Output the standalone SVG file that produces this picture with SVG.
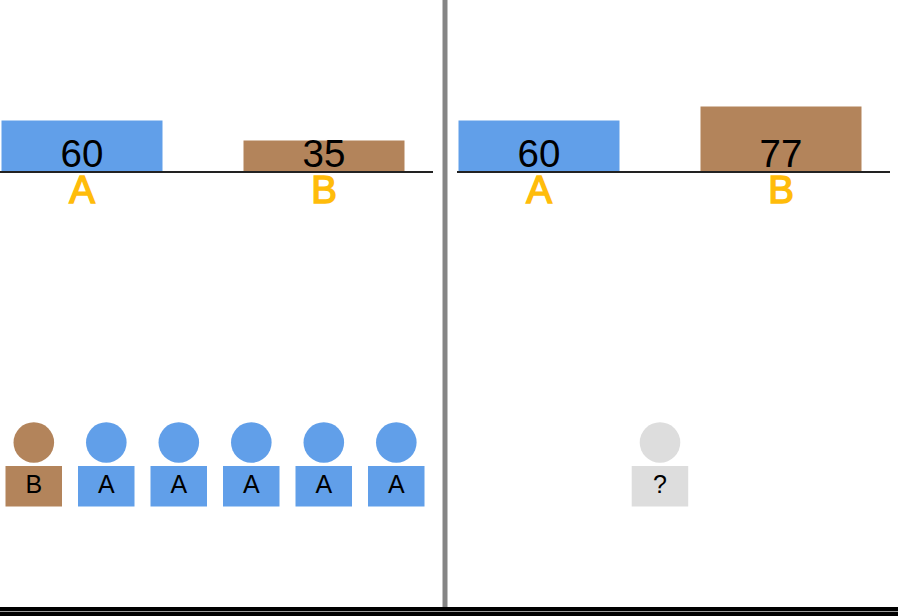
<svg xmlns="http://www.w3.org/2000/svg" width="898" height="616" viewBox="0 0 898 616">
<style>
text{font-family:"Liberation Sans",Arial,sans-serif;text-anchor:middle}
.v{font-size:38.5px;fill:#000}
.l{font-size:38.500px;fill:#ffbc0a;stroke:#ffbc0a;stroke-width:1.500}
.p{font-size:25px;fill:#000}
.a{fill:#619fe9}
.b{fill:#b3845b}
.q{fill:#dddddd}
.ax{stroke:#222;stroke-width:1.8;fill:none}
</style>
<rect width="898" height="616" fill="#fff"/>
<g id="frame">
<rect x="442.500" y="0" width="5" height="607" fill="#858585"/>
<rect x="0" y="607" width="898" height="9" fill="#000"/>
<rect x="0" y="611" width="898" height="1" fill="#999"/>
</g>
<g id="chart-left">
<rect class="a" x="1.500" y="120.500" width="161" height="51.500"/>
<rect class="b" x="243.500" y="140.500" width="161" height="31.500"/>
<line class="ax" x1="0" y1="172" x2="433" y2="172"/>
<text class="v" x="82" y="166.500">60</text>
<text class="v" x="324" y="166.500">35</text>
<text class="l" x="82" y="202.500">A</text>
<text class="l" x="324" y="202.500">B</text>
</g>
<g id="chart-right">
<rect class="a" x="458.500" y="120.500" width="161" height="51.500"/>
<rect class="b" x="700.500" y="106.500" width="161" height="65.500"/>
<line class="ax" x1="457" y1="172" x2="890" y2="172"/>
<text class="v" x="539" y="166.500">60</text>
<text class="v" x="781" y="166.500">77</text>
<text class="l" x="539" y="202.500">A</text>
<text class="l" x="781" y="202.500">B</text>
</g>
<g id="person-1"><circle class="b" cx="33.800" cy="442.500" r="20.300"/><rect class="b" x="5.500" y="466" width="56.500" height="40.500"/><text class="p" x="33.800" y="493">B</text></g>
<g id="person-2"><circle class="a" cx="106.300" cy="442.500" r="20.300"/><rect class="a" x="78" y="466" width="56.500" height="40.500"/><text class="p" x="106.300" y="493">A</text></g>
<g id="person-3"><circle class="a" cx="178.800" cy="442.500" r="20.300"/><rect class="a" x="150.500" y="466" width="56.500" height="40.500"/><text class="p" x="178.800" y="493">A</text></g>
<g id="person-4"><circle class="a" cx="251.300" cy="442.500" r="20.300"/><rect class="a" x="223" y="466" width="56.500" height="40.500"/><text class="p" x="251.300" y="493">A</text></g>
<g id="person-5"><circle class="a" cx="323.800" cy="442.500" r="20.300"/><rect class="a" x="295.500" y="466" width="56.500" height="40.500"/><text class="p" x="323.800" y="493">A</text></g>
<g id="person-6"><circle class="a" cx="396.300" cy="442.500" r="20.300"/><rect class="a" x="368" y="466" width="56.500" height="40.500"/><text class="p" x="396.300" y="493">A</text></g>
<g id="person-unknown"><circle class="q" cx="660" cy="442.500" r="20.300"/><rect class="q" x="631.700" y="466" width="56.500" height="40.500"/><text class="p" x="660" y="493">?</text></g>
</svg>
